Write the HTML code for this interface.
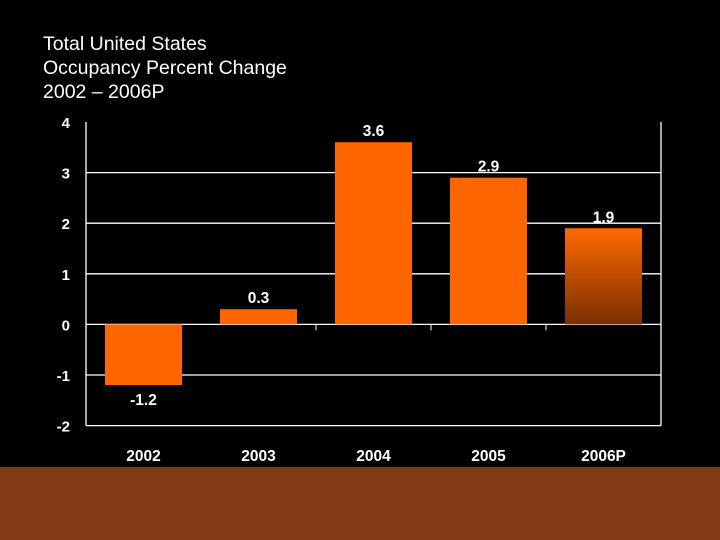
<!DOCTYPE html>
<html><head><meta charset="utf-8"><style>
body{margin:0;background:#000;width:720px;height:540px;overflow:hidden;font-family:"Liberation Sans",sans-serif}
</style></head><body>
<svg width="720" height="540" style="position:absolute;left:0;top:0">
<defs><linearGradient id="g" x1="0" y1="0" x2="0" y2="1"><stop offset="0" stop-color="#ff6a00"/><stop offset="1" stop-color="#7a2e00"/></linearGradient></defs>
<rect x="0" y="467" width="720" height="73" fill="#823a14"/>
<text x="43" y="50" fill="#fff" font-size="19.5">Total United States</text>
<text x="43" y="74" fill="#fff" font-size="19.5">Occupancy Percent Change</text>
<text x="43" y="98" fill="#fff" font-size="19.5">2002 – 2006P</text>
<g id="plot"></g>
</svg>
<script>
const categories=["2002","2003","2004","2005","2006P"];
const values=[-1.2,0.3,3.6,2.9,1.9];
const labels=["-1.2","0.3","3.6","2.9","1.9"];
const ticks=[4,3,2,1,0,-1,-2];
const NS="http://www.w3.org/2000/svg";
const g=document.getElementById('plot');
const L=86,R=661,top4=122,unit=50.6,cw=(R-L)/categories.length;
const y=v=>top4+(4-v)*unit;
const x=i=>L+i*cw;
function mk(t,a){const e=document.createElementNS(NS,t);for(const k in a)e.setAttribute(k,a[k]);g.appendChild(e);return e;}
ticks.forEach(t=>{
  if(t!==4){const l=mk('line',{x1:L,x2:R,y1:y(t),y2:y(t),stroke:'#fff','stroke-width':1.3});
  
  }
  const tx=mk('text',{x:70,y:y(t)+6,fill:'#fff','font-size':15,'font-weight':'bold','text-anchor':'end'});
  tx.textContent=t;
  
  
});
const ax=mk('line',{x1:L,x2:L,y1:y(4),y2:y(-2),stroke:'#fff','stroke-width':1.3});


const rb=mk('line',{x1:R,x2:R,y1:y(4),y2:y(-2),stroke:'#fff','stroke-width':1.3});


for(let i=2;i<categories.length;i++){
  const tk=mk('line',{x1:x(i),x2:x(i),y1:y(0),y2:y(0)+6,stroke:'#fff','stroke-width':1});
  
  
}
categories.forEach((c,i)=>{
  const v=values[i],bw=77,bx=x(i)+(cw-bw)/2;
  const r=mk('rect',{x:bx,y:Math.min(y(v),y(0)),width:bw,height:Math.abs(y(v)-y(0)),fill:i===categories.length-1?'url(#g)':'#ff6600'});
  
  
  const ly=v>=0?y(v)-6:y(v)+20;
  const t=mk('text',{x:bx+bw/2,y:ly,fill:'#fff','font-size':15.5,'font-weight':'bold','text-anchor':'middle'});
  t.textContent=labels[i];
  
  
  const xl=mk('text',{x:x(i)+cw/2,y:461,fill:'#fff','font-size':15.5,'font-weight':'bold','text-anchor':'middle'});
  xl.textContent=c;
  
  
});
</script>
</body></html>
